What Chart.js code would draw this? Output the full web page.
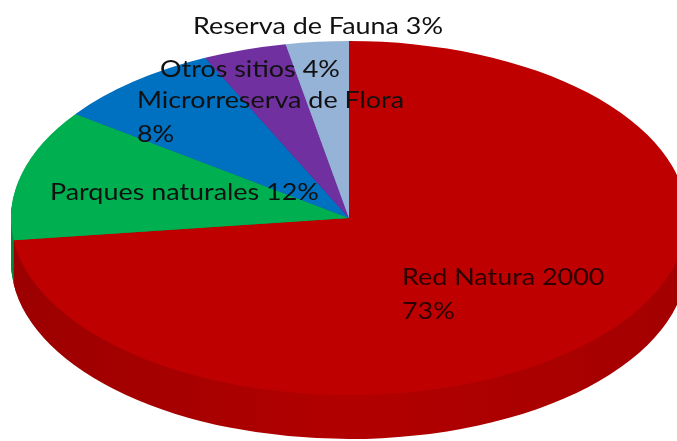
<!DOCTYPE html>
<html>
<head>
<meta charset="utf-8">
<script src="https://cdn.jsdelivr.net/npm/chart.js@4/dist/chart.umd.min.js"></script>
<style>
  html, body { margin: 0; padding: 0; background: #fff; }
  #wrap { width: 677px; height: 441px; }
</style>
</head>
<body>
<div id="wrap"><canvas id="myChart" width="677" height="441"></canvas></div>
<script>
// data
const categories = ['Red Natura 2000', 'Parques naturales', 'Microrreserva de Flora', 'Otros sitios', 'Reserva de Fauna'];
const shares = [73, 12, 8, 4, 3];

// label text, one entry per line
const labelLines = [
  ['Red Natura 2000', '73%'],
  ['Parques naturales 12%'],
  ['Microrreserva de Flora', '8%'],
  ['Otros sitios 4%'],
  ['Reserva de Fauna 3%']
];

// styles
const topColors = ['#bf0000', '#00b050', '#0070c0', '#7030a0', '#95b3d7'];
const sideColors = ['#a80000', '#00893e', '#005a9c', '#5a2682', '#7790b0'];
const labelPos = [[402, 278], [50, 193], [137, 101], [160, 70], [193, 27]];

// where the tilted pie sits on the page
const face = { x: 349, y: 218, rx: 338, ry: 177, depth: 44 };
const lineGap = 34;
const textStretch = 1.17;

const pie3d = {
  id: 'pie3d',
  beforeDatasetsDraw(chart) {
    const ctx = chart.ctx;
    const meta = chart.getDatasetMeta(0);
    const a0 = meta.data[0];
    const sx = face.rx / a0.outerRadius, sy = face.ry / a0.outerRadius;

    // side wall: stack of shifted copies, darker
    for (let d = face.depth; d > 0; d--) {
      ctx.save();
      ctx.translate(face.x, face.y + d);
      ctx.scale(sx, sy);
      meta.data.forEach((arc, i) => {
        let fill = sideColors[i];
        if (i === 0) {
          const g = ctx.createLinearGradient(-arc.outerRadius, 0, arc.outerRadius, 0);
          g.addColorStop(0, '#9c0000');
          g.addColorStop(0.5, '#b20000');
          g.addColorStop(1, '#a40000');
          fill = g;
        }
        ctx.beginPath();
        ctx.moveTo(0, 0);
        ctx.arc(0, 0, arc.outerRadius, arc.startAngle, arc.endAngle);
        ctx.closePath();
        ctx.fillStyle = fill;
        ctx.fill();
      });
      ctx.restore();
    }

    // top face: squash the chart's circle into the ellipse
    ctx.save();
    ctx.translate(face.x, face.y);
    ctx.scale(sx, sy);
    ctx.translate(-a0.x, -a0.y);
  },
  afterDatasetsDraw(chart) {
    chart.ctx.restore();
  },
  afterDraw(chart) {
    const ctx = chart.ctx;
    ctx.save();
    ctx.font = '23px Lato, "Open Sans", sans-serif';
    ctx.textBaseline = 'middle';
    ctx.textAlign = 'left';
    labelLines.forEach((lines, i) => {
      lines.forEach((txt, j) => {
        ctx.save();
        ctx.translate(labelPos[i][0], labelPos[i][1] + j * lineGap);
        ctx.scale(textStretch, 1);
        ctx.fillStyle = i === 0 ? '#2a0000' : '#111111';
        ctx.fillText(txt, 0, 0);
        ctx.restore();
      });
    });
    ctx.restore();
  }
};

const data = {
  labels: categories,
  datasets: [{
    data: shares,
    backgroundColor: topColors,
    borderWidth: 0,
    clip: false
  }]
};

const config = {
  type: 'pie',
  data: data,
  options: {
    responsive: false,
    animation: false,
    layout: { padding: 0 },
    plugins: {
      legend: { display: false },
      tooltip: { enabled: false }
    }
  },
  plugins: [pie3d]
};

const myChart = new Chart(document.getElementById('myChart'), config);
</script>
</body>
</html>
